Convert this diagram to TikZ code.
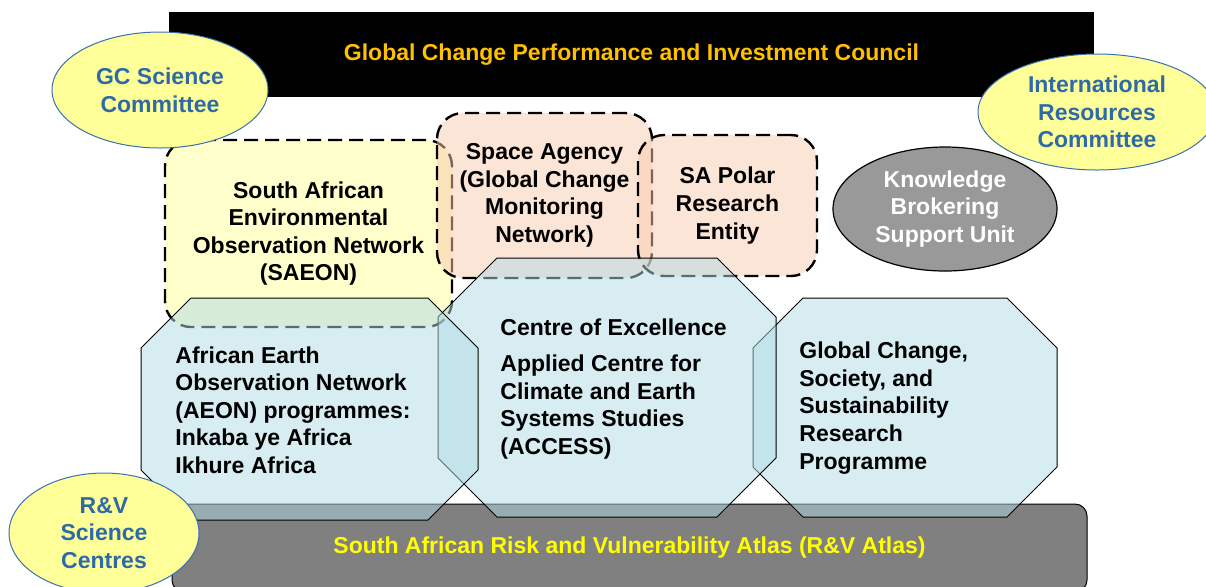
\documentclass[tikz,border=0pt]{standalone}
\usepackage{fontspec}
\setmainfont{Liberation Sans}
\usepackage{tikz}
\usetikzlibrary{shapes.geometric}
\definecolor{Amber}{HTML}{FFC000}
\definecolor{Lemon}{HTML}{FFFF00}
\definecolor{PaleYellow}{HTML}{FFFF99}
\definecolor{Cream}{HTML}{FFFFCC}
\definecolor{Peach}{HTML}{F8CBAD}
\definecolor{Sky}{HTML}{B0DBE5}
\definecolor{Steel}{HTML}{2E6AA6}
\definecolor{EdgeBlue}{HTML}{3A70B0}
\definecolor{MidGray}{HTML}{999999}
\definecolor{DarkGray}{HTML}{808080}

\begin{document}
\begin{tikzpicture}[
  x=0.5pt, y=-0.5pt,
  every node/.style={font=\fontsize{11.5}{13.8}\selectfont\bfseries},
  banner/.style={rectangle, fill=black, minimum width=462.5pt, minimum height=42.5pt, inner sep=0pt, text=Amber},
  bubble/.style={ellipse, draw=EdgeBlue, line width=0.5pt, fill=PaleYellow, text=Steel, align=center, inner sep=0pt},
  unit/.style={ellipse, draw=black, line width=0.6pt, fill=MidGray, text=white, align=center, inner sep=0pt},
  entity/.style={rectangle, rounded corners=13pt, draw=black, line width=1.2pt, dash pattern=on 7pt off 3.5pt, align=center, inner sep=0pt, text opacity=1},
  octbox/.style={draw=black, line width=0.5pt, fill=Sky, fill opacity=0.5},
  atlas/.style={rectangle, rounded corners=6pt, draw=black, line width=0.5pt, fill=DarkGray, minimum width=457.5pt, minimum height=44pt, inner sep=0pt, text=Lemon},
  prog/.style={align=left, anchor=west, inner sep=0pt}
]
\useasboundingbox (0,0) rectangle (1206,586);

\node[banner] (council) at (631.5,54.5) {Global Change Performance and Investment Council};

\node[entity, fill=Cream, minimum width=143.5pt, minimum height=93.5pt] (saeon) at (308.5,233.5) {South African\\Environmental\\Observation Network\\(SAEON)};
\node[entity, fill=Peach, fill opacity=0.5, minimum width=107.5pt, minimum height=82.5pt] (space) at (544.5,195.5) {Space Agency\\(Global Change\\Monitoring\\Network)};
\node[entity, fill=Peach, fill opacity=0.5, minimum width=89.5pt, minimum height=70.5pt] (polar) at (727.5,205.5) {SA Polar\\Research\\Entity};

\node[bubble, minimum width=108pt, minimum height=58pt] (gcsci) at (160,90) {GC Science\\Committee};
\node[bubble, minimum width=119pt, minimum height=58pt] (intres) at (1097,112) {International\\Resources\\Committee};
\node[unit, minimum width=112pt, minimum height=62pt] (kbsu) at (945,209) {Knowledge\\Brokering\\Support Unit};

\node[atlas] (rvatlas) at (629.5,548) {South African Risk and Vulnerability Atlas (R\&V Atlas)};

\draw[octbox] (803,298) -- (1007,298) -- (1057,348) -- (1057,467) -- (1007,517) -- (803,517) -- (753,467) -- (753,348) -- cycle;
\draw[octbox] (497,258) -- (717,258) -- (776,317) -- (776,458) -- (717,517) -- (497,517) -- (438,458) -- (438,317) -- cycle;
\draw[octbox] (191,298) -- (428,298) -- (478,348) -- (478,470) -- (428,520) -- (191,520) -- (141,470) -- (141,348) -- cycle;

\node[bubble, minimum width=95pt, minimum height=60pt] (rvsci) at (104,533) {R\&V\\Science\\Centres};

\node[prog] (aeon) at (175,410) {African Earth\\Observation Network\\(AEON) programmes:\\Inkaba ye Africa\\Ikhure Africa};
\node[prog] (coe) at (500,327) {Centre of Excellence};
\node[prog] (access) at (500,407) {Applied Centre for\\Climate and Earth\\Systems Studies\\(ACCESS)};
\node[prog] (gcsrp) at (799,408) {Global Change,\\Society, and\\Sustainability\\Research\\Programme};
\end{tikzpicture}
\end{document}
